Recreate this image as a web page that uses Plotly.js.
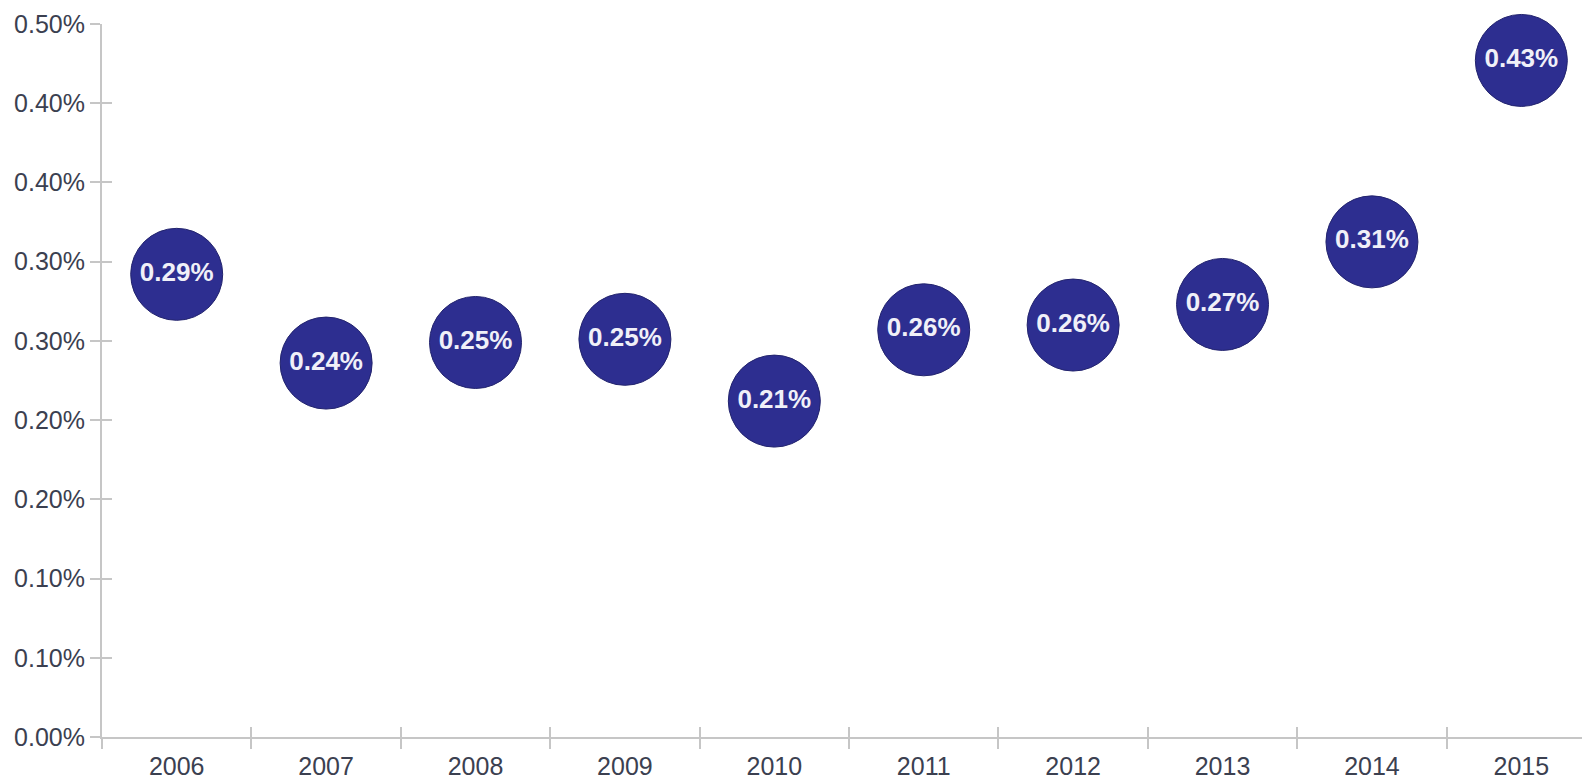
<!DOCTYPE html>
<html>
<head>
<meta charset="utf-8">
<script src="https://cdn.plot.ly/plotly-3.0.1.min.js"></script>
<style>html,body{margin:0;padding:0;background:#fff;}#chart{width:1582px;height:780px;}</style>
</head>
<body>
<div id="chart"></div>
<script>
const years = ['2006','2007','2008','2009','2010','2011','2012','2013','2014','2015'];
const rates = [0.292, 0.236, 0.249, 0.251, 0.212, 0.257, 0.260, 0.273, 0.3125, 0.427];
const yTickVals = [0, 0.05, 0.10, 0.15, 0.20, 0.25, 0.30, 0.35, 0.40, 0.45];
const yTickText = ['0.00%','0.10%','0.10%','0.20%','0.20%','0.30%','0.30%','0.40%','0.40%','0.50%'];
const boundaryVals = [-0.5, 0.5, 1.5, 2.5, 3.5, 4.5, 5.5, 6.5, 7.5, 8.5];

const trace = {
  type: 'scatter',
  mode: 'markers+text',
  x: years,
  y: rates,
  texttemplate: '%{y:.2f}%',
  textposition: 'middle center',
  textfont: {family: 'Liberation Sans, Arial, sans-serif', size: 26, color: '#f0f0f8', weight: 'bold'},
  marker: {size: 92, color: '#2d2e90', line: {color: '#23246e', width: 1}},
  hoverinfo: 'x+y',
  cliponaxis: false
};
const tickTrace = {type: 'scatter', x: [], y: [], xaxis: 'x2', yaxis: 'y2', showlegend: false};

const tickGray = '#c6c6c6';
const layout = {
  width: 1582, height: 780,
  margin: {l: 102, r: 0, t: 24, b: 43},
  paper_bgcolor: '#ffffff', plot_bgcolor: '#ffffff',
  showlegend: false,
  font: {family: 'Liberation Sans, Arial, sans-serif', color: '#3b4050'},
  xaxis: {
    type: 'category',
    range: [-0.5, 9.406],
    tickson: 'boundaries',
    ticks: 'outside', ticklen: 10, tickcolor: tickGray, tickwidth: 2,
    showline: true, linecolor: tickGray, linewidth: 2,
    showgrid: false, zeroline: false,
    tickfont: {size: 25, color: '#3b4050'},
    ticklabelstandoff: 6,
    fixedrange: true
  },
  yaxis: {
    range: [0, 0.45],
    tickmode: 'array', tickvals: yTickVals, ticktext: yTickText,
    ticks: 'outside', ticklen: 10, tickcolor: tickGray, tickwidth: 2,
    showline: true, linecolor: tickGray, linewidth: 2,
    showgrid: false, zeroline: false,
    tickfont: {size: 25, color: '#3b4050'},
    ticklabelstandoff: 0,
    fixedrange: true
  },
  xaxis2: {
    overlaying: 'x', anchor: 'y2', side: 'bottom',
    range: [-0.5, 9.406],
    tickmode: 'array', tickvals: boundaryVals,
    ticks: 'inside', ticklen: 10, tickcolor: tickGray, tickwidth: 2,
    showticklabels: false, showline: false, showgrid: false, zeroline: false,
    fixedrange: true
  },
  yaxis2: {
    overlaying: 'y', anchor: 'x2', side: 'left',
    range: [0, 0.45],
    tickmode: 'array', tickvals: yTickVals,
    ticks: 'inside', ticklen: 10, tickcolor: tickGray, tickwidth: 2,
    showticklabels: false, showline: false, showgrid: false, zeroline: false,
    fixedrange: true
  }
};

Plotly.newPlot('chart', [tickTrace, trace], layout, {displayModeBar: false, staticPlot: true});
</script>
</body>
</html>
